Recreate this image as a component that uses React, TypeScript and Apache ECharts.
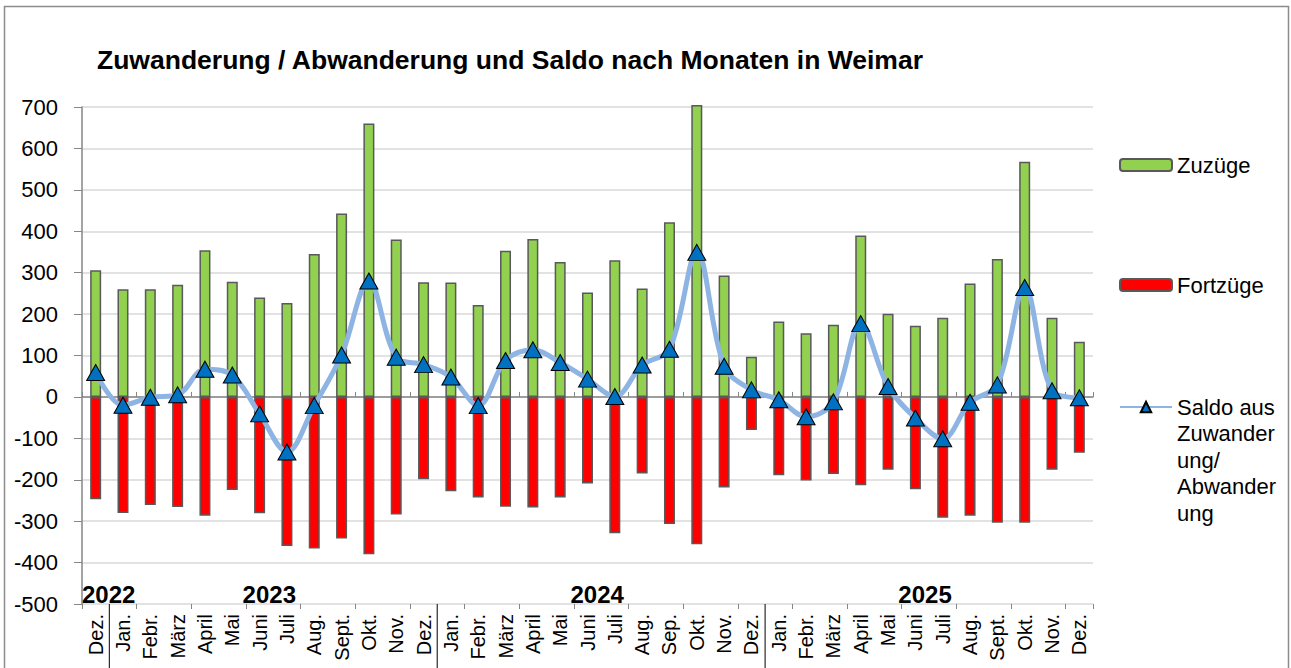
import React, { useEffect, useRef } from 'react';
import * as echarts from 'echarts';

const months = [
  'Dez.',
  'Jan.', 'Febr.', 'März', 'April', 'Mai', 'Juni', 'Juli', 'Aug.', 'Sept.', 'Okt.', 'Nov.', 'Dez.',
  'Jan.', 'Febr.', 'März', 'April', 'Mai', 'Juni', 'Juli', 'Aug.', 'Sep.', 'Okt.', 'Nov.', 'Dez.',
  'Jan.', 'Febr.', 'März', 'April', 'Mai', 'Juni', 'Juli', 'Aug.', 'Sept.', 'Okt.', 'Nov.', 'Dez.',
];

const zuzuege = [
  306,
  260, 260, 271, 354, 278, 240, 227, 345, 443, 660, 380, 277,
  276, 222, 353, 381, 326, 252, 330, 262, 422, 705, 293, 97,
  182, 154, 174, 390, 201, 172, 191, 274, 333, 568, 191, 133,
];

const fortzuege = [
  -247,
  -280, -261, -266, -287, -225, -281, -360, -366, -342, -380, -284, -199,
  -228, -243, -265, -267, -243, -209, -329, -185, -307, -356, -219, -80,
  -189, -202, -186, -213, -176, -223, -292, -287, -304, -304, -176, -135,
];

const saldo = [
  59,
  -20, -1, 5, 67, 53, -41, -133, -21, 101, 280, 96, 78,
  48, -21, 88, 114, 83, 43, 1, 77, 115, 349, 74, 17,
  -7, -48, -12, 177, 25, -51, -101, -13, 29, 264, 15, -2,
];

const years = ['2022', '2023', '2024', '2025'];
const yearStart = [0, 1, 13, 25];
const yearEnd = [0, 12, 24, 36];

const yMin = -500;
const yMax = 700;
const yStep = 100;

const title = 'Zuwanderung / Abwanderung und Saldo nach Monaten in Weimar';
const nameZu = 'Zuzüge';
const nameFort = 'Fortzüge';
const nameSaldo = 'Saldo aus Zuwanderung/Abwanderung';
const saldoLines = ['Saldo aus', 'Zuwander', 'ung/', 'Abwander', 'ung'];

const FONT = '"Liberation Sans", Arial, sans-serif';

export default function App() {
  const ref = useRef<HTMLDivElement>(null);

  useEffect(() => {
    const chart = echarts.init(ref.current as HTMLDivElement, null, { renderer: 'svg' });
    const axisGray = '#868686';
    const lh = 26.5;
    const legendText = { fontFamily: FONT, fontSize: 22, color: '#000', lineHeight: lh };
    const pad = saldoLines.length - 1;
    const saldoText = '\n'.repeat(pad) + saldoLines.join('\n');
    const totalLines = pad + saldoLines.length;

    const option: any = {
      animation: false,
      backgroundColor: '#fff',
      textStyle: { fontFamily: FONT },
      title: {
        text: title,
        left: 97,
        top: 46,
        padding: 0,
        textStyle: { fontFamily: FONT, fontSize: 26.5, fontWeight: 'bold', color: '#000' },
      },
      grid: { left: 82, right: 198, top: 107, bottom: 64, containLabel: false },
      legend: [
        {
          data: [nameZu],
          orient: 'vertical',
          left: 1119,
          top: 165 - lh / 2,
          padding: 0,
          itemWidth: 52,
          itemHeight: 12,
          textStyle: legendText,
          selectedMode: false,
        },
        {
          data: [nameFort],
          orient: 'vertical',
          left: 1119,
          top: 285 - lh / 2,
          padding: 0,
          itemWidth: 52,
          itemHeight: 12,
          textStyle: legendText,
          selectedMode: false,
        },
        {
          data: [nameSaldo],
          orient: 'vertical',
          left: 1119,
          top: 407 - (totalLines * lh) / 2,
          padding: 0,
          itemWidth: 52,
          itemHeight: 13,
          formatter: () => saldoText,
          textStyle: legendText,
          selectedMode: false,
        },
      ],
      xAxis: [
        {
          type: 'category',
          data: months,
          position: 'bottom',
          axisLine: { onZero: true, lineStyle: { color: axisGray, width: 1.5 } },
          axisTick: { show: true, inside: true, length: 5, lineStyle: { color: axisGray, width: 1 } },
          axisLabel: { show: false },
          splitLine: { show: false },
        },
        {
          type: 'category',
          data: months,
          position: 'bottom',
          axisLine: { show: false, onZero: true },
          axisTick: { show: true, inside: false, length: 5, lineStyle: { color: axisGray, width: 1 } },
          axisLabel: { show: false },
          splitLine: { show: false },
        },
        {
          type: 'category',
          data: months,
          position: 'bottom',
          axisLine: { show: false, onZero: false },
          axisTick: { show: false },
          axisLabel: {
            interval: 0,
            rotate: 90,
            margin: 10,
            fontFamily: FONT,
            fontSize: 20,
            color: '#000',
          },
          splitLine: { show: false },
        },
      ],
      yAxis: {
        type: 'value',
        min: yMin,
        max: yMax,
        interval: yStep,
        axisLine: { show: true, lineStyle: { color: axisGray, width: 1.5 } },
        axisTick: { show: true, length: 8, lineStyle: { color: axisGray, width: 1 } },
        axisLabel: { fontFamily: FONT, fontSize: 22, color: '#000', margin: 24 },
        splitLine: { show: true, lineStyle: { color: '#d9d9d9', width: 1.5 } },
      },
      series: [
        {
          name: nameZu,
          type: 'bar',
          stack: 'move',
          data: zuzuege,
          barWidth: 11,
          clip: false,
          itemStyle: { color: '#92D050', borderColor: '#595959', borderWidth: 1.5 },
          z: 2,
        },
        {
          name: nameFort,
          type: 'bar',
          stack: 'move',
          data: fortzuege,
          barWidth: 11,
          clip: false,
          itemStyle: { color: '#FF0000', borderColor: '#595959', borderWidth: 1.5 },
          z: 2,
        },
        {
          name: nameSaldo,
          type: 'line',
          data: saldo,
          smooth: 0.35,
          symbol: 'triangle',
          symbolSize: [18, 16],
          showAllSymbol: true,
          clip: false,
          lineStyle: { color: '#8DB4E2', width: 5 },
          itemStyle: { color: '#0070C0', borderColor: '#000', borderWidth: 1 },
          z: 4,
        },
      ],
    };

    chart.setOption(option);

    const xPx = (i: number) => chart.convertToPixel({ xAxisIndex: 0 }, i) as number;
    const yBottom = chart.convertToPixel({ yAxisIndex: 0 }, yMin) as number;
    const band = xPx(1) - xPx(0);

    const graphics: any[] = [
      {
        type: 'rect',
        shape: { x: 4.5, y: 6.5, width: 1284, height: 700 },
        style: { fill: 'none', stroke: '#8c8c8c', lineWidth: 1.5 },
        silent: true,
        z: 0,
      },
    ];

    years.forEach((yr, k) => {
      const s = yearStart[k];
      const e = yearEnd[k];
      if (s > 0) {
        const bx = xPx(s) - band / 2;
        graphics.push({
          type: 'line',
          shape: { x1: bx, y1: yBottom, x2: bx, y2: 668 },
          style: { stroke: '#000', lineWidth: 1 },
          silent: true,
        });
      }
      const single = s === e;
      const x = single ? xPx(s) - band / 2 : (xPx(s) + xPx(e)) / 2 - 4;
      graphics.push({
        type: 'text',
        x,
        y: yBottom - 10,
        style: {
          text: yr,
          fontFamily: FONT,
          fontSize: 24,
          fontWeight: 'bold',
          fill: '#000',
          align: single ? 'left' : 'center',
          verticalAlign: 'middle',
        },
        silent: true,
        z: 10,
      });
    });

    chart.setOption({ graphic: graphics });

    return () => chart.dispose();
  }, []);

  return (
    <div
      ref={ref}
      style={{ position: 'absolute', left: 0, top: 0, width: 1291, height: 668 }}
    />
  );
}
